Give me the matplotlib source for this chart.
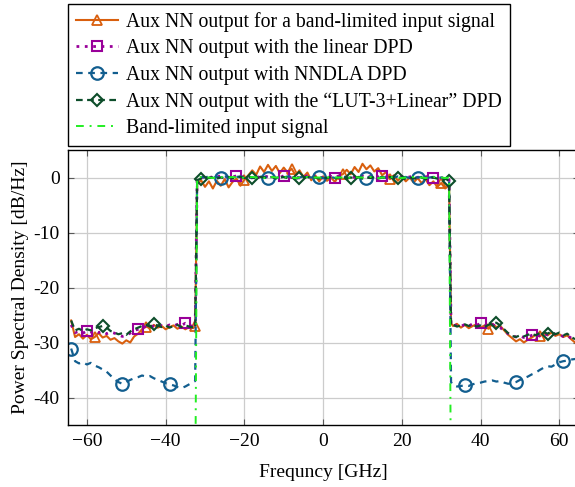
import matplotlib
matplotlib.use("Agg")
import matplotlib.pyplot as plt
import numpy as np
from matplotlib.ticker import FuncFormatter

plt.rcParams['font.family'] = ['Liberation Serif', 'DejaVu Serif']

# frequency grid [GHz]: out-of-band left, band edge, in-band, band edge, out-of-band right
freq = np.concatenate([np.arange(-64, -32), [-32.5], np.arange(-32, 33), [32.5], np.arange(33, 65)])

# Aux NN output for a band-limited input signal
psd_bl_left = [-26.0, -29.0, -28.5, -29.3, -28.6, -29.4, -29.0, -28.3, -29.1, -28.8, -29.5,
               -29.2, -29.8, -30.2, -29.6, -30.0, -28.9, -28.4, -27.6, -27.1, -27.4, -26.8,
               -27.3, -27.0, -27.6, -27.2, -26.9, -27.5, -27.1, -27.6, -27.2, -27.4, -27.0]
psd_bl_band = [-1.2, -0.5, -1.7, -0.7, -2.0, -0.6, -1.5, -0.3, -1.8, -0.8, -0.2, -1.5, -0.4,
               0.4, 1.3, 0.5, 2.0, 1.0, 2.3, 1.2, 2.1, 0.8, 1.8, 0.9, 1.6, 0.4, 1.3, 0.1, 0.9,
               -0.5, 0.4, -0.7, 0.2, -0.6, 0.0, -0.8, 0.3, 0.6, 1.4, 0.6, 1.9, 1.0, 2.5, 1.5,
               2.2, 1.1, 1.7, 0.4, 1.0, -0.3, 0.4, -0.6, 0.2, -0.7, 0.0, -0.9, -0.1, -1.0,
               -0.3, -1.4, -0.7, -1.7, -1.0, -2.0, -1.4]
psd_bl_right = [-26.5, -27.0, -26.6, -27.3, -26.8, -27.4, -27.0, -26.7, -27.3, -26.9, -27.5,
                -26.6, -27.2, -27.0, -27.8, -28.6, -29.2, -29.8, -29.4, -30.0, -29.5, -29.1,
                -28.6, -28.9, -28.3, -28.7, -28.2, -28.8, -28.5, -29.0, -28.7, -29.4, -30.0]

# Aux NN output with the linear DPD
psd_lin_left = [-26.8, -28.2, -28.0, -28.3, -27.9, -28.1, -27.8, -28.2, -28.0, -28.4, -28.1,
                -28.3, -28.6, -28.9, -28.7, -28.3, -27.8, -27.6, -27.3, -27.1, -27.3, -27.0,
                -27.2, -26.9, -27.1, -26.8, -27.0, -26.7, -26.9, -26.5, -26.8, -27.2, -27.3]
psd_lin_band = [-0.3, 0.0, 0.1, -0.1, 0.2, 0.1, 0.3, 0.0, 0.2, 0.1, 0.3, 0.0, 0.2, 0.1, -0.1,
                0.2, 0.0, 0.3, 0.1, -0.1, 0.2, 0.0, 0.3, 0.1, 0.0, 0.2, -0.1, 0.1, 0.3, 0.0,
                0.2, 0.1, -0.1, 0.1, 0.2, 0.0, 0.3, 0.1, -0.1, 0.2, 0.0, 0.1, 0.3, 0.0, 0.2,
                -0.1, 0.1, 0.3, 0.0, 0.2, 0.1, -0.1, 0.2, 0.0, 0.1, 0.3, 0.0, 0.2, 0.1, 0.3,
                0.0, 0.1, -0.1, 0.0, -0.4]
psd_lin_right = [-26.9, -27.0, -26.8, -27.1, -26.7, -27.0, -26.6, -26.9, -26.5, -26.8, -27.0,
                 -26.7, -27.1, -27.3, -27.9, -28.4, -28.7, -29.0, -28.8, -29.1, -29.0, -28.7,
                 -28.5, -28.8, -28.4, -28.6, -28.3, -28.5, -28.6, -28.9, -28.7, -29.2, -29.6]

# Aux NN output with NNDLA DPD
psd_nndla_left = [-31.1, -33.4, -33.8, -33.6, -34.0, -33.7, -34.2, -34.5, -34.9, -35.3, -36.0,
                  -36.7, -37.2, -37.5, -37.2, -36.8, -36.5, -36.3, -36.0, -36.2, -36.1, -36.5,
                  -36.8, -37.1, -37.4, -37.6, -37.8, -38.1, -38.3, -38.0, -37.6, -37.2, -37.0]
psd_nndla_band = [-0.2, 0.1, 0.0, 0.2, -0.1, 0.1, 0.0, 0.2, 0.1, -0.1, 0.1, 0.2, 0.0, 0.1,
                  -0.1, 0.0, 0.2, 0.1, 0.0, 0.2, -0.1, 0.1, 0.0, 0.2, 0.1, -0.1, 0.0, 0.2, 0.1,
                  0.0, 0.2, 0.1, -0.1, 0.0, 0.1, -0.1, 0.0, 0.2, 0.0, -0.1, 0.1, 0.0, -0.2, 0.0,
                  0.1, -0.1, 0.0, 0.1, -0.1, 0.1, 0.0, 0.2, 0.0, 0.1, -0.1, 0.1, 0.0, 0.1, -0.1,
                  0.0, 0.1, -0.1, 0.0, -0.2, -0.3]
psd_nndla_right = [-37.2, -37.8, -38.0, -37.9, -37.8, -37.9, -37.6, -37.4, -37.3, -37.1, -37.0,
                   -36.9, -37.1, -37.0, -37.3, -37.5, -37.4, -37.2, -36.8, -36.5, -36.2, -35.8,
                   -35.5, -35.0, -34.6, -34.3, -34.4, -34.0, -33.6, -33.4, -33.3, -33.1, -33.0]

# Aux NN output with the "LUT-3+Linear" DPD
psd_lut_left = [-26.0, -27.8, -27.5, -27.9, -27.6, -27.8, -27.4, -27.2, -27.0, -27.3, -27.9,
                -28.2, -28.5, -28.3, -28.6, -28.0, -27.6, -27.3, -27.0, -26.8, -27.1, -26.7,
                -26.9, -27.2, -26.9, -27.3, -27.0, -26.8, -27.2, -26.9, -27.1, -27.3, -27.4]
psd_lut_band = [-0.5, -0.2, 0.0, -0.1, 0.1, -0.2, 0.0, -0.1, 0.1, -0.2, 0.0, 0.1, -0.1, 0.2,
                0.0, -0.2, 0.1, 0.0, -0.1, 0.1, -0.2, 0.0, 0.1, -0.1, 0.0, -0.2, -0.1, 0.0, 0.1,
                -0.1, 0.0, -0.2, 0.0, -0.1, 0.1, -0.2, 0.0, -0.1, -0.2, 0.0, -0.1, 0.1, -0.2,
                0.0, -0.1, 0.1, -0.2, 0.0, -0.1, 0.1, -0.2, 0.0, -0.1, -0.3, 0.0, -0.2, -0.1,
                0.0, -0.3, -0.1, 0.0, -0.2, -0.3, -0.2, -0.6]
psd_lut_right = [-27.0, -26.8, -27.1, -26.9, -26.7, -27.0, -26.8, -27.1, -26.9, -27.2, -26.8,
                 -26.5, -26.4, -26.9, -27.6, -28.3, -28.8, -29.0, -28.7, -28.9, -28.6, -28.4,
                 -28.7, -28.3, -28.1, -28.4, -28.0, -28.5, -28.2, -28.7, -28.4, -29.0, -29.4]

# band-limited input signal (-32.5 ... 32.5 GHz)
input_freq = freq[32:99]
input_psd = [-60.0, 0.0, 0.1, 0.0, 0.0, -0.1, 0.0, 0.1, 0.0, 0.0, 0.1, 0.0, -0.1, 0.0, 0.0,
             0.1, 0.0, 0.0, -0.1, 0.0, 0.1, 0.0, 0.0, 0.0, 0.1, 0.0, -0.1, 0.0, 0.0, 0.1,
             0.0, 0.0, 0.0, -0.1, 0.0, 0.1, 0.0, 0.0, 0.0, -0.1, 0.0, 0.1, 0.0, 0.0, 0.0,
             0.1, 0.0, -0.1, 0.0, 0.0, 0.1, 0.0, 0.0, -0.1, 0.0, 0.0, 0.1, 0.0, 0.0, -0.1,
             0.0, 0.1, 0.0, 0.0, -0.1, 0.0, -60.0]

labels = ["Aux NN output for a band-limited input signal",
          "Aux NN output with the linear DPD",
          "Aux NN output with NNDLA DPD",
          "Aux NN output with the \u201cLUT-3+Linear\u201d DPD",
          "Band-limited input signal"]


def marks(start):
    # marker every ~12.5 GHz, snapped to the grid
    pos = np.arange(start, 65, 12.5)
    return [int(np.argmin(np.abs(freq - p))) for p in pos]


fig = plt.figure(figsize=(5.75, 4.87), dpi=100)
ax = fig.add_axes([68 / 575, 62 / 487, 511 / 575, 275 / 487])

ax.plot(freq, np.concatenate([psd_bl_left, psd_bl_band, psd_bl_right]), color="#d95f0e",
        lw=1.5, marker="^", ms=7, mfc="none", mew=1.3, markevery=marks(-57.7), label=labels[0])
ax.plot(freq, np.concatenate([psd_lin_left, psd_lin_band, psd_lin_right]), color="#990099",
        lw=2.0, ls=(0, (1, 2)), marker="s", ms=7, mfc="none", mew=1.5, markevery=marks(-59.7),
        label=labels[1])
ax.plot(freq, np.concatenate([psd_nndla_left, psd_nndla_band, psd_nndla_right]), color="#125e8f",
        lw=1.6, ls=(0, (3, 2.5)), marker="o", ms=9, mfc="none", mew=1.6, markevery=marks(-63.9),
        label=labels[2])
ax.plot(freq, np.concatenate([psd_lut_left, psd_lut_band, psd_lut_right]), color="#0d4d2a",
        lw=1.6, ls=(0, (3, 2)), marker="D", ms=6, mfc="none", mew=1.5, markevery=marks(-55.6),
        label=labels[3])
ax.plot(input_freq, input_psd, color="#22ee22", lw=1.4, ls=(0, (4, 3, 1, 3)), label=labels[4])

ax.set_xlim(-64.8, 65.0)
ax.set_ylim(-45, 5)
ax.set_xticks([-60, -40, -20, 0, 20, 40, 60])
ax.set_yticks([-40, -30, -20, -10, 0])
ax.xaxis.set_major_formatter(FuncFormatter(lambda v, p: f"{v:.0f}".replace("-", "\u2212")))
ax.yaxis.set_major_formatter(FuncFormatter(lambda v, p: f"{v:.0f}"))
ax.tick_params(direction="in", top=True, right=True, length=4, width=0.8, color="0.35",
               labelsize=14, pad=6)
ax.grid(True, color="#cccccc", lw=0.9)
ax.set_axisbelow(True)
for s in ax.spines.values():
    s.set_linewidth(1.0)

ax.set_xlabel("Frequncy [GHz]", fontsize=14, labelpad=10)
ax.set_ylabel("Power Spectral Density [dB/Hz]", fontsize=14, labelpad=3)

fig.legend(loc="upper left", bbox_to_anchor=(68 / 575, 1 - 4 / 487), fontsize=14.2,
           frameon=True, fancybox=False, edgecolor="black", framealpha=1,
           handlelength=2.15, handletextpad=0.4, labelspacing=0.38, borderpad=0.4,
           borderaxespad=0)

fig.savefig("out.png", dpi=100)
